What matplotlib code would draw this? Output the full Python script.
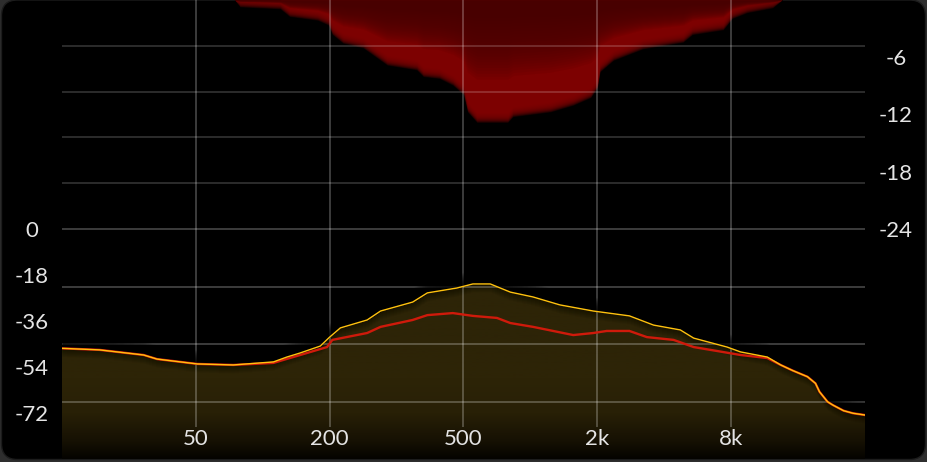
import numpy as np
import matplotlib
matplotlib.use('Agg')
import matplotlib.pyplot as plt
from matplotlib.patches import FancyBboxPatch, Polygon
from matplotlib.colors import LinearSegmentedColormap

plt.rcParams['font.family'] = ['Lato', 'DejaVu Sans']

W, H = 927, 462

# x is measured in grid divisions: 0 = left edge, 6 = right edge
freq_pos = [1, 2, 3, 4, 5]
freq_labels = ['50', '200', '500', '2k', '8k']

level_ticks = [0, -18, -36, -54, -72]   # left axis (dB)
gr_ticks = [-6, -12, -18, -24]          # right axis (gain reduction, dB)

# input spectrum (yellow)
in_pos = [0, 0.28, 0.61, 0.71, 1.01, 1.28, 1.58, 1.68, 1.78, 1.93, 2.00, 2.08,
          2.28, 2.38, 2.62, 2.73, 2.95, 3.07, 3.20, 3.35, 3.52, 3.72, 3.97, 4.24,
          4.42, 4.62, 4.72, 4.97, 5.07, 5.27, 5.37, 5.46, 5.57, 5.63, 5.66, 5.72,
          5.76, 5.84, 5.91, 6.00]
in_db = [-46.7, -47.3, -49.3, -50.9, -52.8, -53.2, -52.0, -50.1, -48.5, -45.8,
         -42.3, -38.7, -35.6, -32.1, -28.6, -25.0, -23.1, -21.5, -21.5, -24.7,
         -26.6, -29.7, -32.1, -34.0, -37.6, -39.5, -42.7, -46.2, -48.1, -50.1,
         -53.2, -55.4, -57.8, -60.4, -63.7, -67.6, -68.9, -71.1, -72.1, -72.8]

# output spectrum (red)
out_pos = [0, 0.28, 0.61, 0.71, 1.01, 1.28, 1.58, 1.65, 1.78, 1.98, 2.02, 2.28,
           2.38, 2.62, 2.73, 2.92, 3.07, 3.25, 3.35, 3.52, 3.67, 3.82, 3.97, 4.07,
           4.24, 4.37, 4.57, 4.72, 4.89, 5.07, 5.27, 5.34, 5.37, 5.46, 5.57, 5.63,
           5.66, 5.72, 5.76, 5.84, 5.91, 6.00]
out_db = [-46.7, -47.3, -49.3, -50.9, -52.8, -53.2, -52.4, -51.3, -49.3, -46.2,
          -43.4, -40.7, -38.3, -35.6, -33.7, -32.9, -34.0, -34.8, -36.8, -38.3,
          -39.9, -41.5, -40.7, -39.9, -39.9, -42.3, -43.4, -46.2, -47.7, -49.3,
          -50.5, -52.4, -53.2, -55.4, -57.8, -60.4, -63.7, -67.6, -68.9, -71.1,
          -72.1, -72.8]

# gain reduction (red area hanging from the top)
gr_pos = [0, 1.29, 1.33, 1.63, 1.70, 1.91, 1.99, 2.02, 2.10, 2.25, 2.32, 2.43,
          2.65, 2.70, 2.82, 2.92, 3.00, 3.03, 3.10, 3.33, 3.37, 3.65, 3.82, 3.95,
          4.00, 4.02, 4.12, 4.34, 4.64, 4.71, 4.94, 5.01, 5.12, 5.31, 5.38, 6.00]
gr_db = [0, 0, -0.2, -0.4, -1.2, -1.6, -2.1, -3.1, -4.0, -4.5, -5.2, -6.3,
         -6.8, -7.5, -7.7, -8.4, -9.4, -11.2, -12.3, -12.3, -11.7, -11.2, -10.5, -9.7,
         -8.7, -7.0, -5.8, -4.6, -3.9, -3.1, -2.6, -1.4, -0.8, -0.3, 0, 0]

# ---- figure / card ----
fig = plt.figure(figsize=(W / 100, H / 100), dpi=100, facecolor='#2e2e2e')
bg = fig.add_axes([0, 0, 1, 1])
bg.set_xlim(0, W); bg.set_ylim(0, H); bg.axis('off'); bg.set_zorder(-1)
bg.add_patch(FancyBboxPatch((1.5, 2.5), 924, 459.5,
                            boxstyle='round,pad=0,rounding_size=16',
                            fc='black', ec='#1c1c1c', lw=1))

ax = fig.add_axes([62 / W, 3 / H, 803 / W, 459 / H])
ax2 = ax.twinx()
ax.set_zorder(1); ax2.set_zorder(0)
for a in (ax, ax2):
    a.patch.set_visible(False)
    for s in a.spines.values():
        s.set_visible(False)

lvl_top = 229 * 90 / 230
px_lvl = 90 / 230          # level dB per pixel
px_gr = 24 / 229           # gain reduction dB per pixel

# ---- gain reduction: bright towards the edge, dark at the top, soft edge ----
gp = np.array(gr_pos); g = np.array(gr_db)
inside = g < 0
for s in np.linspace(-5, 5, 21):
    edge = np.where(inside, np.minimum(g + s * px_gr, 0), 0)
    ax2.fill_between(gp, edge, 0, color='#850707', alpha=0.15, lw=0, zorder=1)
for f in np.arange(0.15, 0.7, 0.025):
    ax2.fill_between(gp, g * f, 0, color='#480000', alpha=0.1, lw=0, zorder=1)
ax2.hlines([-4.8, -9.6, -14.4, -19.2], 0, 6, colors='white', alpha=0.22,
           lw=1.1, zorder=3)

# ---- spectrum fill ----
xp = np.array(in_pos); yi = np.array(in_db)
poly = Polygon(np.column_stack([np.r_[xp, xp[::-1]],
                                np.r_[yi, np.full(len(yi), -90.0)]]),
               closed=True, fc='none', ec='none')
ax.add_patch(poly)
cmap = LinearSegmentedColormap.from_list(
    'olive', [(0, '#040300'), (0.07, '#151003'), (0.2, '#282006'),
              (0.35, '#2d2407'), (1, '#2d2407')])
im = ax.imshow(np.linspace(0, 1, 256).reshape(-1, 1), extent=[0, 6, -90, 0],
               origin='lower', aspect='auto', cmap=cmap, zorder=1)
im.set_clip_path(poly)
for k in range(1, 9):
    ax.fill_between(xp, yi - k * px_lvl, yi, color='black', alpha=0.06, lw=0,
                    zorder=1.5)

# grid
ax.hlines([0, -22.5, -45, -67.5], 0, 6, colors='white', alpha=0.3, lw=1.1, zorder=2)
ax.vlines(freq_pos, 32 / 459, 1, transform=ax.get_xaxis_transform(),
          colors='white', alpha=0.3, lw=1.1, zorder=2)

# shadow above the input curve
for k in range(1, 15):
    ax.fill_between(xp, yi, yi + k * px_lvl, color='black', alpha=0.1, lw=0,
                    zorder=3)

ax.plot(out_pos, out_db, color='#cf1a0b', lw=1.7, zorder=4)
ax.plot(in_pos, in_db, color='#ffc20e', lw=1.0, zorder=5)

ax.set_xlim(0, 6)
ax.set_ylim(-90, lvl_top)
ax2.set_ylim(-24 * 459 / 229, 0)

# ---- ticks ----
txt = '#e4e4e4'
ax.set_yticks(level_ticks, [f'{t}' for t in level_ticks])
ax.tick_params(axis='y', length=0, pad=21.6, labelsize=16, labelcolor=txt)
for lab in ax.get_yticklabels():
    lab.set_ha('center')
ax2.set_yticks(gr_ticks, [f'{t}' for t in gr_ticks])
ax2.tick_params(axis='y', length=0, pad=22.3, labelsize=16, labelcolor=txt)
for lab in ax2.get_yticklabels():
    lab.set_ha('center')
ax.set_xticks(freq_pos, freq_labels)
ax.tick_params(axis='x', length=0, pad=-21.5, labelsize=16, labelcolor=txt)

fig.savefig('out.png', dpi=100, facecolor=fig.get_facecolor())
